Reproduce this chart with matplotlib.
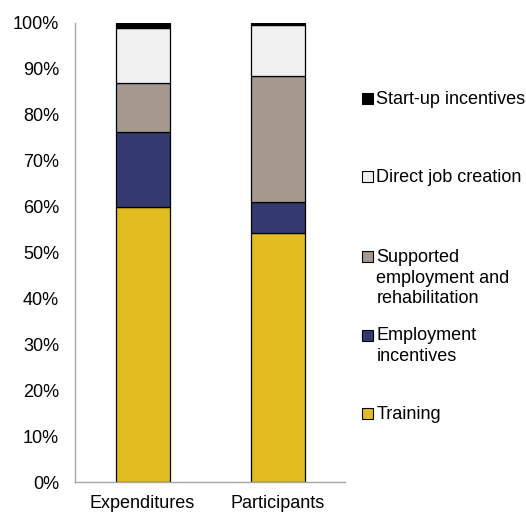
import matplotlib
matplotlib.use('Agg')
import matplotlib.pyplot as plt
import matplotlib.patches as mpatches
from matplotlib.ticker import PercentFormatter
import numpy as np

plt.rcParams['font.family'] = ['Liberation Sans', 'DejaVu Sans']

categories = ['Expenditures', 'Participants']
series = ['Training', 'Employment incentives',
          'Supported employment and rehabilitation',
          'Direct job creation', 'Start-up incentives']
legend_labels = ['Training', 'Employment\nincentives',
                 'Supported\nemployment and\nrehabilitation',
                 'Direct job creation', 'Start-up incentives']
training = [59.9, 54.2]
employment_incentives = [16.3, 6.7]
supported_employment = [10.6, 27.4]
direct_job_creation = [12.1, 11.3]
startup_incentives = [1.1, 0.4]
values = [training, employment_incentives, supported_employment,
          direct_job_creation, startup_incentives]
colors = ['#E1BD22', '#343A70', '#A4988F', '#F0F0F0', '#000000']

fs = 13

fig = plt.figure(figsize=(5.26, 5.15), dpi=100)
ax = fig.add_axes([75/526, 1-482.3/515, 270/526, 459.6/515])

x = np.arange(len(categories))
bottom = np.zeros(len(categories))
for vals, col, name in zip(values, colors, series):
    ax.bar(x, vals, 0.4, bottom=bottom, color=col, edgecolor='black',
           linewidth=0.9, label=name)
    bottom += np.array(vals)

ax.set_xlim(-0.5, 1.5)
ax.set_ylim(0, 100)
ax.set_yticks(np.arange(0, 101, 10))
ax.yaxis.set_major_formatter(PercentFormatter(decimals=0))
ax.set_xticks(x)
ax.set_xticklabels(categories)
ax.tick_params(axis='y', length=0, pad=11.5, labelsize=fs)
ax.tick_params(axis='x', length=0, pad=9, labelsize=fs)
for s in ['top', 'right']:
    ax.spines[s].set_visible(False)
for s in ['left', 'bottom']:
    ax.spines[s].set_color('#A6A6A6')
    ax.spines[s].set_linewidth(1.0)

# hand-placed legend (first-line centre in pixels, from top)
legend_y = [413.3, 335, 256.7, 176.7, 98.3]
for lab, col, yp in zip(legend_labels, colors, legend_y):
    fy = 1 - yp/515
    fig.patches.append(mpatches.Rectangle((362/526, fy - 5.5/515), 11/526, 11/515,
                                          facecolor=col, edgecolor='black',
                                          linewidth=0.8, transform=fig.transFigure))
    fig.text(376.5/526, fy + 7.5/515, lab, ha='left', va='top', fontsize=fs,
             linespacing=1.27)

fig.savefig('out.png', dpi=100)
